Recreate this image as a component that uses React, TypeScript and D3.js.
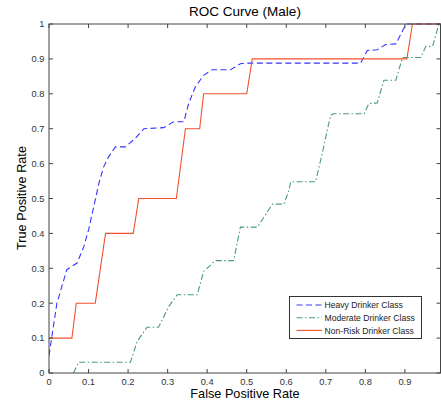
import React from "react";
import * as d3 from "d3";

const heavyFpr = [0, 0.004, 0.02, 0.045, 0.071, 0.088, 0.10, 0.117, 0.126, 0.138, 0.151, 0.168, 0.193, 0.218, 0.24, 0.29, 0.315, 0.341, 0.353, 0.37, 0.391, 0.413, 0.459, 0.484, 0.495, 0.788, 0.805, 0.83, 0.851, 0.877, 0.903, 0.99];
const heavyTpr = [0.05, 0.08, 0.2, 0.296, 0.315, 0.362, 0.41, 0.496, 0.543, 0.59, 0.62, 0.648, 0.648, 0.672, 0.70, 0.703, 0.72, 0.72, 0.772, 0.82, 0.853, 0.869, 0.869, 0.886, 0.888, 0.888, 0.924, 0.926, 0.941, 0.943, 1.0, 1.0];

const moderateFpr = [0.062, 0.075, 0.206, 0.223, 0.248, 0.277, 0.303, 0.324, 0.375, 0.391, 0.421, 0.467, 0.484, 0.527, 0.565, 0.594, 0.607, 0.611, 0.674, 0.691, 0.712, 0.72, 0.797, 0.809, 0.83, 0.847, 0.877, 0.894, 0.94, 0.953, 0.97, 0.986, 0.99];
const moderateTpr = [0, 0.031, 0.031, 0.091, 0.131, 0.131, 0.191, 0.224, 0.224, 0.291, 0.322, 0.322, 0.418, 0.418, 0.484, 0.484, 0.524, 0.548, 0.548, 0.629, 0.739, 0.743, 0.743, 0.772, 0.774, 0.839, 0.839, 0.904, 0.904, 0.936, 0.936, 1.0, 1.0];

const nonRiskFpr = [0, 0.058, 0.069, 0.117, 0.143, 0.213, 0.227, 0.322, 0.345, 0.381, 0.391, 0.50, 0.514, 0.905, 0.919, 0.99];
const nonRiskTpr = [0.1, 0.1, 0.2, 0.2, 0.4, 0.4, 0.5, 0.5, 0.7, 0.7, 0.8, 0.8, 0.9, 0.9, 1.0, 1.0];

const xTicks = [0, 0.1, 0.2, 0.3, 0.4, 0.5, 0.6, 0.7, 0.8, 0.9];
const yTicks = [0, 0.1, 0.2, 0.3, 0.4, 0.5, 0.6, 0.7, 0.8, 0.9, 1];
const seriesNames = ["Heavy Drinker Class", "Moderate Drinker Class", "Non-Risk Drinker Class"];

const FONT = "'Liberation Sans', Arial, Helvetica, sans-serif";

export default function App() {
  const left = 49, right = 440.5, top = 24, bottom = 373;
  const x = d3.scaleLinear().domain([0, 0.99]).range([left, right]);
  const y = d3.scaleLinear().domain([0, 1]).range([bottom, top]);
  const line = d3.line<[number, number]>().x((d) => x(d[0])).y((d) => y(d[1]));
  const zip = (a: number[], b: number[]) => a.map((v, i) => [v, b[i]] as [number, number]);

  const series = [
    { name: seriesNames[0], d: line(zip(heavyFpr, heavyTpr)), color: "#3535ff", dash: "6,3.5" },
    { name: seriesNames[1], d: line(zip(moderateFpr, moderateTpr)), color: "#4a9c76", dash: "6,2.5,1.5,2.5" },
    { name: seriesNames[2], d: line(zip(nonRiskFpr, nonRiskTpr)), color: "#f2502e", dash: "none" },
  ];
  const axisColor = "#444";
  const tickLen = 4;
  const lx = 289.5, ly = 296.5, lw = 132, lh = 42;

  return (
    <svg width={441} height={402} style={{ position: "absolute", left: 0, top: 0, background: "#fff" }} fontFamily={FONT}>
      <rect x={0} y={0} width={441} height={402} fill="#fff" />
      <defs>
        <clipPath id="plotclip">
          <rect x={left} y={top - 1} width={right - left} height={bottom - top + 2} />
        </clipPath>
      </defs>
      <g clipPath="url(#plotclip)">
        {series.map((s) => (
          <path key={s.name} d={s.d || ""} fill="none" stroke={s.color} strokeWidth={1.1} strokeDasharray={s.dash} />
        ))}
      </g>
      {/* frame */}
      <rect x={left} y={top} width={right - left} height={bottom - top} fill="none" stroke={axisColor} strokeWidth={1} />
      {xTicks.map((t) => (
        <g key={"x" + t}>
          <line x1={x(t)} x2={x(t)} y1={bottom} y2={bottom - tickLen} stroke={axisColor} />
          <line x1={x(t)} x2={x(t)} y1={top} y2={top + tickLen} stroke={axisColor} />
          <text x={x(t)} y={385} fontSize={9.3} fill="#333" textAnchor="middle">{String(t)}</text>
        </g>
      ))}
      {yTicks.map((t) => (
        <g key={"y" + t}>
          <line x1={left} x2={left + tickLen} y1={y(t)} y2={y(t)} stroke={axisColor} />
          <line x1={right} x2={right - tickLen} y1={y(t)} y2={y(t)} stroke={axisColor} />
          <text x={44.5} y={y(t) + 3.3} fontSize={9.3} fill="#333" textAnchor="end">{String(t)}</text>
        </g>
      ))}
      <text x={245} y={16} fontSize={13.5} fill="#000" textAnchor="middle">ROC Curve (Male)</text>
      <text x={245} y={398} fontSize={12.7} fill="#000" textAnchor="middle">False Positive Rate</text>
      <text transform="translate(25.5,198) rotate(-90)" fontSize={12.7} fill="#000" textAnchor="middle">True Positive Rate</text>
      {/* legend */}
      <rect x={lx} y={ly} width={lw} height={lh} fill="#fff" stroke="#333" strokeWidth={1} />
      {series.map((s, i) => {
        const yy = 305 + i * 12.7;
        return (
          <g key={"lg" + i}>
            <line x1={296.5} x2={322} y1={yy} y2={yy} stroke={s.color} strokeWidth={1.1} strokeDasharray={s.dash} />
            <text x={324.5} y={yy + 3.2} fontSize={8.6} fill="#222">{s.name}</text>
          </g>
        );
      })}
    </svg>
  );
}
